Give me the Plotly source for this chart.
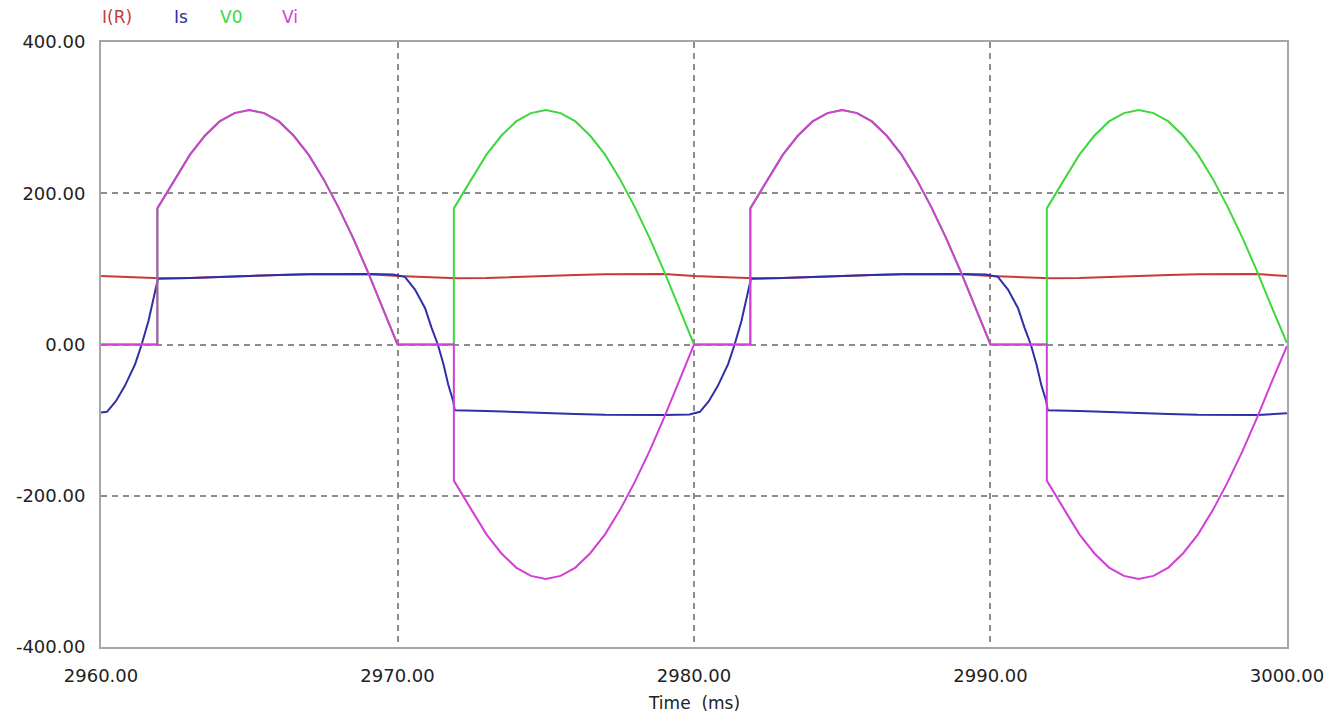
import plotly.graph_objects as go

# ---- data (time in ms) ----
t_vi = [2960, 2961.9, 2961.9, 2962.5, 2963, 2963.5, 2964, 2964.5, 2965, 2965.5, 2966, 2966.5,
        2967, 2967.5, 2968, 2968.5, 2969, 2969.5, 2970,
        2971.9, 2971.9, 2972.5, 2973, 2973.5, 2974, 2974.5, 2975, 2975.5, 2976, 2976.5,
        2977, 2977.5, 2978, 2978.5, 2979, 2979.5, 2980,
        2981.9, 2981.9, 2982.5, 2983, 2983.5, 2984, 2984.5, 2985, 2985.5, 2986, 2986.5,
        2987, 2987.5, 2988, 2988.5, 2989, 2989.5, 2990,
        2991.9, 2991.9, 2992.5, 2993, 2993.5, 2994, 2994.5, 2995, 2995.5, 2996, 2996.5,
        2997, 2997.5, 2998, 2998.5, 2999, 2999.5, 3000]

vi = [0, 0, 180, 219, 251, 276, 295, 306, 310, 306, 295, 276, 251, 219, 182, 141, 96, 48, 0,
      0, -180, -219, -251, -276, -295, -306, -310, -306, -295, -276, -251, -219, -182, -141, -96, -48, 0,
      0, 180, 219, 251, 276, 295, 306, 310, 306, 295, 276, 251, 219, 182, 141, 96, 48, 0,
      0, -180, -219, -251, -276, -295, -306, -310, -306, -295, -276, -251, -219, -182, -141, -96, -48, -2]

v0 = [0, 0, 180, 219, 251, 276, 295, 306, 310, 306, 295, 276, 251, 219, 182, 141, 96, 48, 0,
      0, 180, 219, 251, 276, 295, 306, 310, 306, 295, 276, 251, 219, 182, 141, 96, 48, 0,
      0, 180, 219, 251, 276, 295, 306, 310, 306, 295, 276, 251, 219, 182, 141, 96, 48, 0,
      0, 180, 219, 251, 276, 295, 306, 310, 306, 295, 276, 251, 219, 182, 141, 96, 48, 2]

t_is = [2960, 2960.2, 2960.5, 2960.8, 2961.15, 2961.37, 2961.6, 2961.76, 2961.92,
        2963, 2964, 2965, 2966, 2967, 2968, 2969, 2969.85,
        2970.25, 2970.59, 2970.93, 2971.15, 2971.36, 2971.55, 2971.71, 2971.88, 2971.93,
        2973, 2974, 2975, 2976, 2977, 2978, 2979, 2979.85,
        2980.2, 2980.5, 2980.8, 2981.15, 2981.37, 2981.6, 2981.76, 2981.92,
        2983, 2984, 2985, 2986, 2987, 2988, 2989, 2989.85,
        2990.25, 2990.59, 2990.93, 2991.15, 2991.36, 2991.55, 2991.71, 2991.88, 2991.93,
        2993, 2994, 2995, 2996, 2997, 2998, 2999, 3000]

i_s = [-90, -89, -75, -55, -26, 0, 31, 57, 87,
       87.8, 89.5, 90.5, 92, 93, 93.3, 93.2, 92.5,
       89.5, 72.6, 48, 22, 0, -26, -53, -75, -87,
       -87.8, -89.5, -90.5, -92, -93, -93.3, -93.2, -92.5,
       -89, -75, -55, -26, 0, 31, 57, 87,
       87.8, 89.5, 90.5, 92, 93, 93.3, 93.2, 92.5,
       89.5, 72.6, 48, 22, 0, -26, -53, -75, -87,
       -87.8, -89.5, -90.5, -92, -93, -93.3, -93.2, -91]

t_ir = [2960, 2961, 2962, 2963, 2964, 2965, 2966, 2967, 2968, 2969, 2970,
        2971, 2972, 2973, 2974, 2975, 2976, 2977, 2978, 2979, 2980,
        2981, 2982, 2983, 2984, 2985, 2986, 2987, 2988, 2989, 2990,
        2991, 2992, 2993, 2994, 2995, 2996, 2997, 2998, 2999, 3000]

i_r = [90.5, 88.8, 87.6, 87.8, 89.5, 90.5, 92, 93, 93.3, 93.2, 90.5,
       88.8, 87.6, 87.8, 89.5, 90.5, 92, 93, 93.3, 93.2, 90.5,
       88.8, 87.6, 87.8, 89.5, 90.5, 92, 93, 93.3, 93.2, 90.5,
       88.8, 87.6, 87.8, 89.5, 90.5, 92, 93, 93.3, 93.2, 90.5]

x_ticks = [2960, 2970, 2980, 2990, 3000]
y_ticks = [-400, -200, 0, 200, 400]

names = ["I(R)", "Is", "V0", "Vi"]
colors = ["#c83a3a", "#2f2fa6", "#3cd83c", "#d23ed6"]

fig = go.Figure()
fig.add_trace(go.Scatter(x=t_ir, y=i_r, mode="lines", name=names[0],
                         line=dict(color=colors[0], width=2)))
fig.add_trace(go.Scatter(x=t_is, y=i_s, mode="lines", name=names[1],
                         line=dict(color=colors[1], width=2)))
fig.add_trace(go.Scatter(x=t_vi, y=v0, mode="lines", name=names[2],
                         line=dict(color=colors[2], width=2)))
fig.add_trace(go.Scatter(x=t_vi, y=vi, mode="lines", name=names[3],
                         line=dict(color=colors[3], width=2)))

legend_x = [-0.001, 0.060, 0.099, 0.151]
for nm, col, lx in zip(names, colors, legend_x):
    fig.add_annotation(text=nm, x=lx, y=1.041, xref="paper", yref="paper",
                       xanchor="left", yanchor="middle", showarrow=False,
                       font=dict(family="DejaVu Sans", size=17, color=col))

fig.add_annotation(text="Time\u00a0 (ms)", x=0.5, y=-0.092, xref="paper", yref="paper",
                   xanchor="center", yanchor="middle", showarrow=False,
                   font=dict(family="DejaVu Sans", size=17, color="#222222"))

axis_common = dict(showline=True, mirror=True, linecolor="#a6a6a6", linewidth=2,
                   showgrid=True, gridcolor="#8c8c8c", gridwidth=1.5, griddash="6px,5px",
                   zeroline=False, ticks="", automargin=False, ticklabeloverflow="allow",
                   tickfont=dict(family="DejaVu Sans", size=18, color="#222222"))

fig.update_xaxes(range=[2959.999, 3000.001], tickmode="array", tickvals=x_ticks,
                 ticktext=[f"{v:.2f}" for v in x_ticks],
                 ticklabelstandoff=11, **axis_common)
fig.update_yaxes(range=[-400.01, 400.01], tickmode="array", tickvals=y_ticks,
                 ticktext=[f"{v:.2f}" for v in y_ticks],
                 ticklabelstandoff=10, **axis_common)

fig.update_layout(width=1324, height=714, showlegend=False,
                  plot_bgcolor="white", paper_bgcolor="white",
                  margin=dict(l=101, r=37, t=42, b=67, autoexpand=False))

# remove the default page margin so the figure fills the window exactly
fig.write_html("out.html", config={"displayModeBar": False},
               post_script="document.body.style.margin='0';"
                           "document.body.style.overflow='hidden';")
